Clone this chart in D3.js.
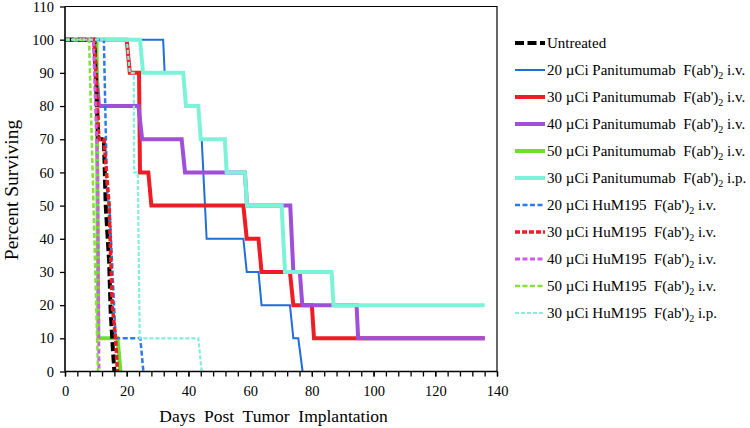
<!DOCTYPE html>
<html><head><meta charset="utf-8">
<script src="https://cdn.jsdelivr.net/npm/d3@7"></script>
<style>
html,body{margin:0;padding:0;background:#fff;}
svg text{font-family:"Liberation Serif","Times New Roman",Times,serif;}
</style></head>
<body><svg id="c" width="750" height="428"></svg>
<script>
// ---- data ----
const xTicks = [0,20,40,60,80,100,120,140];
const yTicks = [0,10,20,30,40,50,60,70,80,90,100,110];
const xMinorTicks = d3.range(0,141,4);

const untreated = [[0,100],[9.5,100],[10.8,70],[12.6,70],[13.2,50],[14.3,33],[14.8,18],[15.5,7],[16,0]];
const pan20iv = [[0,100],[31.8,100],[32.3,90],[38.3,90],[39.2,80],[43.2,80],[44,70],[44.3,70],[45.9,40],[57.8,40],[58.9,30],[62.7,30],[63.7,20],[72.9,20],[74,10],[75.6,10],[77,0]];
const pan30iv = [[0,100],[20,100],[21,90],[24,90],[24.3,60],[27,60],[28,50],[57.8,50],[58.9,40],[62.7,40],[63.7,30],[72.9,30],[74,20],[80,20],[80.7,10],[136,10]];
const pan40iv = [[0,100],[9.4,100],[11,80],[23.8,80],[25,70],[37.8,70],[38.9,60],[58.3,60],[59,50],[73,50],[74,30],[76.1,30],[76.9,20],[94.5,20],[95,10],[136,10]];
const pan50iv = [[0,100],[10.2,100],[10.8,10],[17,10],[18,0]];
const pan30ip = [[0,100],[24.3,100],[25.3,90],[38.3,90],[39.2,80],[43.2,80],[44,70],[51.8,70],[52.4,60],[58.3,60],[59,50],[70.2,50],[71.3,30],[86.4,30],[87,20],[136,20]];
const hum20iv = [[0,100],[12.6,100],[13.6,55],[14.4,50],[16.4,10],[24.4,10],[25.4,0]];
const hum30iv = [[0,100],[9.5,100],[11,70],[12.6,70],[14.3,50],[15.3,20],[16.4,10],[17,0]];
const hum40iv = [[0,100],[9.2,100],[10.6,60],[11,0]];
const hum50iv = [[0,100],[7.8,100],[10.4,10],[10.7,0]];
const hum30ip = [[0,100],[20,100],[21,90],[22.3,90],[22.4,60],[23.6,60],[24.2,10],[43.2,10],[44.3,0]];

const legendLabels = [
  ["Untreated", null, ""],
  ["20 µCi Panitumumab  F(ab')", "2", " i.v."],
  ["30 µCi Panitumumab  F(ab')", "2", " i.v."],
  ["40 µCi Panitumumab  F(ab')", "2", " i.v."],
  ["50 µCi Panitumumab  F(ab')", "2", " i.v."],
  ["30 µCi Panitumumab  F(ab')", "2", " i.p."],
  ["20 µCi HuM195  F(ab')", "2", " i.v."],
  ["30 µCi HuM195  F(ab')", "2", " i.v."],
  ["40 µCi HuM195  F(ab')", "2", " i.v."],
  ["50 µCi HuM195  F(ab')", "2", " i.v."],
  ["30 µCi HuM195  F(ab')", "2", " i.p."]
];

// ---- styles ----
const styles = [
  {data:untreated, color:"#000000", w:4,   dash:"9,3.5"},
  {data:pan20iv,   color:"#1e6fdc", w:2,   dash:null},
  {data:pan30iv,   color:"#ee1c25", w:4,   dash:null},
  {data:pan40iv,   color:"#9f4fd8", w:4,   dash:null},
  {data:pan50iv,   color:"#6ae12e", w:4,   dash:null},
  {data:pan30ip,   color:"#7cf3d9", w:4,   dash:null},
  {data:hum20iv,   color:"#2a7be4", w:2.5, dash:"5,2.5"},
  {data:hum30iv,   color:"#ee1c25", w:3.5, dash:"5,2"},
  {data:hum40iv,   color:"#d35ae6", w:3,   dash:"5,2.5"},
  {data:hum50iv,   color:"#84e03c", w:2.5, dash:"5,2.5"},
  {data:hum30ip,   color:"#80efdc", w:2.2, dash:"4,2"}
];
const drawOrder = [1,2,3,4,5,0,6,7,8,9,10];

const FONT = "'Liberation Serif', 'Times New Roman', Times, serif";
const svg = d3.select("#c");
const L = 65, R = 497, T = 6.5, B = 371.5;
const x = d3.scaleLinear().domain([0,140]).range([L,R]);
const y = d3.scaleLinear().domain([0,110]).range([B,T]);

svg.append("path").attr("d",`M${L},${T}H${R}V${B}`).attr("fill","none").attr("stroke","#000").attr("stroke-width",1.2);

const line = d3.line().x(d=>x(d[0])).y(d=>y(d[1]));
const plot = svg.append("g");
drawOrder.forEach(i=>{
  const s = styles[i];
  plot.append("path").datum(s.data).attr("d",line)
    .attr("fill","none").attr("stroke",s.color).attr("stroke-width",s.w)
    .attr("stroke-dasharray",s.dash).attr("stroke-linejoin","miter");
});

const fontSize = 14.5;
const yAxis = svg.append("g").attr("transform",`translate(${L},0)`)
  .call(d3.axisLeft(y).tickValues(yTicks).tickSize(5).tickPadding(6).tickFormat(d3.format("d")));
const xMinor = svg.append("g").attr("transform",`translate(0,${B})`)
  .call(d3.axisBottom(x).tickValues(xMinorTicks).tickSize(5).tickFormat(""));
xMinor.select(".domain").remove();
const xAxis = svg.append("g").attr("transform",`translate(0,${B})`)
  .call(d3.axisBottom(x).tickValues(xTicks).tickSize(5).tickPadding(9).tickFormat(d3.format("d")));
[yAxis,xAxis,xMinor].forEach(g=>{
  g.attr("font-family",FONT);
  g.selectAll(".domain").attr("stroke","#000").attr("stroke-width",1.6);
  g.selectAll(".tick line").attr("stroke","#000").attr("stroke-width",1.3);
  g.selectAll(".tick text").attr("font-family",FONT).attr("font-size",fontSize).attr("fill","#000");
});
xAxis.select(".domain").attr("d",`M${L},0H${R}`);
yAxis.select(".domain").attr("d",`M0,${B}V${T}`);

svg.append("text").attr("x",273.5).attr("y",422).attr("text-anchor","middle").attr("font-family",FONT)
  .attr("font-size",17.5).style("white-space","pre").text("Days  Post  Tumor  Implantation");
svg.append("text").attr("transform","translate(18,190) rotate(-90)").attr("text-anchor","middle").attr("font-family",FONT)
  .attr("font-size",19.5).text("Percent Surviving");

const lg = svg.append("g");
legendLabels.forEach((lab,i)=>{
  const s = styles[i];
  const cy = 43 + i*27;
  lg.append("line").attr("x1",515).attr("x2",545).attr("y1",cy).attr("y2",cy)
    .attr("stroke",s.color).attr("stroke-width",s.w).attr("stroke-dasharray",s.dash);
  const t = lg.append("text").attr("x",547).attr("y",cy+5).attr("font-family",FONT).attr("font-size",15).style("white-space","pre");
  t.append("tspan").text(lab[0]);
  if(lab[1]){
    t.append("tspan").attr("dy",4).attr("font-size",10).text(lab[1]);
    t.append("tspan").attr("dy",-4).text(lab[2]);
  }
});
</script></body></html>
